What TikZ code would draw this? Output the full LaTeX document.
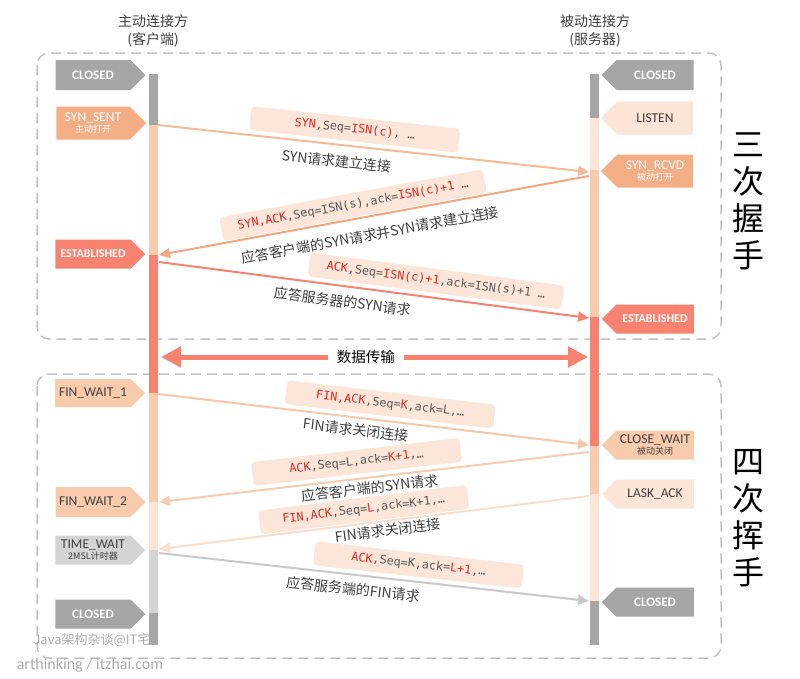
\documentclass[tikz,border=0pt]{standalone}
\usepackage{fontspec}
\setmainfont{Carlito}
\newfontfamily\cjk{Noto Sans CJK SC}
\newfontfamily\mono{DejaVu Sans Mono}
\usetikzlibrary{arrows.meta,shapes.symbols}

\definecolor{frameGray}{HTML}{C2C2C2}
\definecolor{stateGray}{HTML}{A6A6A6}
\definecolor{stateOrange}{HTML}{F4AE86}
\definecolor{stateSalmon}{HTML}{F7826F}
\definecolor{statePeach}{HTML}{F8CBAD}
\definecolor{stateLight}{HTML}{FCE4D6}
\definecolor{stateSilver}{HTML}{D4D4D4}
\definecolor{boxFill}{HTML}{FCE6DA}
\definecolor{codeRed}{HTML}{DC2A22}
\definecolor{codeGray}{HTML}{5A5A5A}
\definecolor{txtGray}{HTML}{404040}
\definecolor{wmGray}{HTML}{ABABAB}

\newcommand\rd[1]{\textcolor{codeRed}{#1}}
\newcommand\substate[1]{\\[-2pt]{\cjk\fontsize{9}{9}\selectfont #1}}

\begin{document}
\begin{tikzpicture}[
    x=1pt,
    y=-1pt,
    state/.style={signal, signal to=east, minimum width=90pt,
        minimum height=30pt, inner sep=0pt, align=center,
        font=\fontsize{13.5}{13.5}\selectfont},
    srv/.style={signal to=west, minimum width=92pt},
    msg/.style={line width=2pt, -{Triangle[length=11pt,width=10pt]}},
    code/.style={fill=boxFill, rounded corners=4pt, minimum width=210pt,
        minimum height=24pt, inner sep=0pt, text=codeGray,
        font=\mono\fontsize{11.8}{12}\selectfont},
    note/.style={text=txtGray, inner sep=1pt,
        font=\cjk\fontsize{14}{14}\selectfont},
    frame/.style={draw=frameGray, line width=1.5pt,
        dash pattern=on 10pt off 6pt, rounded corners=12pt}
]

\useasboundingbox (0,0) rectangle (800,678);

% Naglowki
\node[align=center, text=txtGray, font=\cjk\fontsize{14}{18}\selectfont]
    (cTitle) at (153,31) {主动连接方\\(客户端)};
\node[align=center, text=txtGray, font=\cjk\fontsize{14}{18}\selectfont]
    (sTitle) at (595,31) {被动连接方\\(服务器)};

% Ramki
\draw[frame]
    (37,53) rectangle (721,339);
\draw[frame]
    (37,374) rectangle (721,658);

% Linia klienta
\fill[stateGray]   (149,74)  rectangle (158,125);
\fill[statePeach]  (149,125) rectangle (158,255);
\fill[stateSalmon] (149,255) rectangle (158,393);
\fill[statePeach]  (149,393) rectangle (158,502);
\fill[stateLight]  (149,502) rectangle (158,550);
\fill[stateSilver] (149,550) rectangle (158,613);
\fill[stateGray]   (149,613) rectangle (158,645);

% Linia serwera
\fill[stateGray]   (590,74)  rectangle (599,118);
\fill[stateLight]  (590,118) rectangle (599,170);
\fill[statePeach]  (590,170) rectangle (599,317);
\fill[stateSalmon] (590,317) rectangle (599,446);
\fill[statePeach]  (590,446) rectangle (599,494);
\fill[stateLight]  (590,494) rectangle (599,601);
\fill[stateGray]   (590,601) rectangle (599,645);

% Stany klienta
\node[state, fill=stateGray, text=white, font=\bfseries\fontsize{13}{13}\selectfont]
    (cClosed) at (93,75) {CLOSED};
\node[state, fill=stateOrange, text=white, minimum height=33pt]
    (cSynSent) at (93,123) {SYN\_SENT\substate{主动打开}};
\node[state, fill=stateSalmon, text=white, minimum height=29pt,
      font=\bfseries\fontsize{12}{12}\selectfont]
    (cEstab) at (93,254) {ESTABLISHED};
\node[state, fill=statePeach, text=txtGray, minimum height=28pt]
    (cFinWait1) at (93,393) {FIN\_WAIT\_1};
\node[state, fill=statePeach, text=txtGray]
    (cFinWait2) at (93,502) {FIN\_WAIT\_2};
\node[state, fill=stateSilver, text=txtGray, minimum height=29pt]
    (cTimeWait) at (93,550) {TIME\_WAIT\substate{2MSL计时器}};
\node[state, fill=stateGray, text=white, minimum height=29pt,
      font=\bfseries\fontsize{13}{13}\selectfont]
    (cClosedEnd) at (93,614) {CLOSED};

% Stany serwera
\node[state, srv, fill=stateGray, text=white, font=\bfseries\fontsize{13}{13}\selectfont]
    (sClosed) at (655,75) {CLOSED};
\node[state, srv, fill=stateLight, text=txtGray, minimum height=33pt]
    (sListen) at (655,118) {LISTEN};
\node[state, srv, fill=stateOrange, text=white, minimum height=33pt]
    (sSynRcvd) at (655,171) {SYN\_RCVD\substate{被动打开}};
\node[state, srv, fill=stateSalmon, text=white, minimum height=29pt,
      font=\bfseries\fontsize{12}{12}\selectfont]
    (sEstab) at (655,319) {ESTABLISHED};
\node[state, srv, fill=statePeach, text=txtGray, minimum height=29pt]
    (sCloseWait) at (655,445) {CLOSE\_WAIT\substate{被动关闭}};
\node[state, srv, fill=stateLight, text=txtGray, minimum height=29pt]
    (sLastAck) at (655,494) {LASK\_ACK};
\node[state, srv, fill=stateGray, text=white, minimum height=29pt,
      font=\bfseries\fontsize{13}{13}\selectfont]
    (sClosedEnd) at (655,602) {CLOSED};

% Punkty na liniach
\coordinate (c1) at (158,125);
\coordinate (s1) at (589,172);
\coordinate (s2) at (589,176);
\coordinate (c2) at (159,255);
\coordinate (c3) at (159,262);
\coordinate (s3) at (589,318);
\coordinate (dL) at (161,357);
\coordinate (dR) at (588,357);
\coordinate (c5) at (158,394);
\coordinate (s5) at (589,445);
\coordinate (s6) at (589,452);
\coordinate (c6) at (159,502);
\coordinate (s7) at (589,496);
\coordinate (c7) at (159,549);
\coordinate (c8) at (159,553);
\coordinate (s8) at (589,601);

% Trzy kroki
\draw[msg, color=stateOrange!85!white]
    (c1) -- (s1)
    node[code, sloped, pos=0.452, above=4pt] (m1box)
        {\rd{SYN},Seq=\rd{ISN(c)}, …}
    node[note, sloped, pos=0.418, below=8pt] (m1txt)
        {SYN请求建立连接};

\draw[msg, color=stateOrange!95!red]
    (s2) -- (c2)
    node[code, sloped, pos=0.543, above=1pt, minimum width=268pt] (m2box)
        {\rd{SYN,ACK},Seq=ISN(s),ack=\rd{ISN(c)+1} …}
    node[note, sloped, pos=0.517, below=10pt] (m2txt)
        {应答客户端的SYN请求并SYN请求建立连接};

\draw[msg, color=stateSalmon]
    (c3) -- (s3)
    node[code, sloped, pos=0.639, above=4pt, minimum width=256pt] (m3box)
        {\rd{ACK},Seq=\rd{ISN(c)+1},ack=ISN(s)+1 …}
    node[note, sloped, pos=0.431, below=7pt] (m3txt)
        {应答服务器的SYN请求};

% Dane
\draw[line width=5pt, color=stateSalmon,
      {Triangle[length=20pt,width=20pt]}-{Triangle[length=20pt,width=20pt]}]
    (dL) -- (dR)
    node[pos=0.48, fill=white, text=black, inner xsep=9pt,
         font=\cjk\fontsize{14.5}{14.5}\selectfont] (dTxt) {数据传输};

% Cztery kroki
\draw[msg, color=statePeach!85!stateOrange]
    (c5) -- (s5)
    node[code, sloped, pos=0.534, above=4pt] (m5box)
        {\rd{FIN,ACK},Seq=\rd{K},ack=L,…}
    node[note, sloped, pos=0.462, below=4pt] (m5txt)
        {FIN请求关闭连接};

\draw[msg, color=statePeach]
    (s6) -- (c6)
    node[code, sloped, pos=0.536, above=4pt] (m6box)
        {\rd{ACK},Seq=L,ack=\rd{K+1},…}
    node[note, sloped, pos=0.513, below=2pt] (m6txt)
        {应答客户端的SYN请求};

\draw[msg, color=stateLight!70!statePeach]
    (s7) -- (c7)
    node[code, sloped, pos=0.520, above=1pt] (m7box)
        {\rd{FIN,ACK},Seq=\rd{L},ack=K+1,…}
    node[note, sloped, pos=0.471, below=1pt] (m7txt)
        {FIN请求关闭连接};

\draw[msg, color=stateSilver!95!black]
    (c8) -- (s8)
    node[code, sloped, pos=0.599, above=4pt] (m8box)
        {\rd{ACK},Seq=K,ack=\rd{L+1},…}
    node[note, sloped, pos=0.455, below=6pt] (m8txt)
        {应答服务端的FIN请求};

% Opisy z boku
\node[align=center, font=\cjk\fontsize{32}{37}\selectfont]
    (hand3) at (748,201) {三\\次\\握\\手};
\node[align=center, font=\cjk\fontsize{32}{37}\selectfont]
    (hand4) at (748,518) {四\\次\\挥\\手};

% Znak wodny
\node[text=wmGray, font=\cjk\fontsize{13}{13}\selectfont]
    (wm1) at (92,640) {Java架构杂谈@IT宅};
\node[text=wmGray, font=\fontsize{16}{16}\selectfont]
    (wm2) at (90,665) {arthinking / itzhai.com};

\end{tikzpicture}
\end{document}
